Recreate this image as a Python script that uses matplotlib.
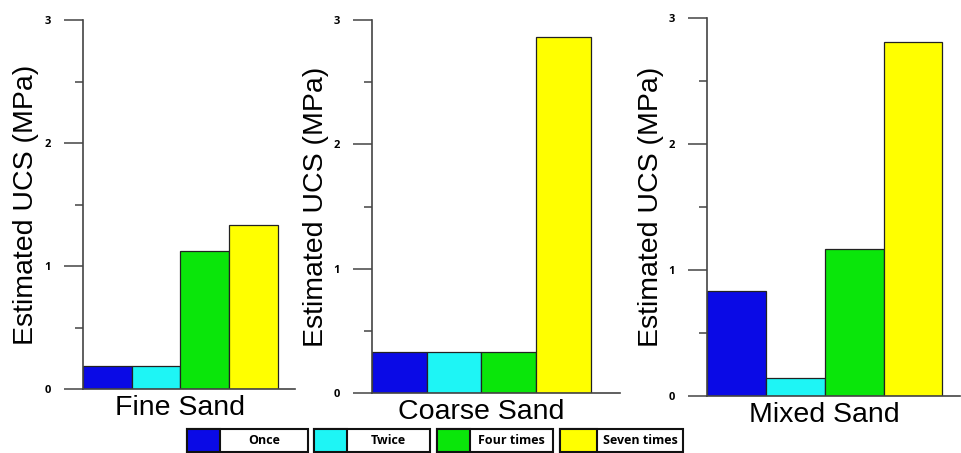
import matplotlib.pyplot as plt
from matplotlib.patches import Rectangle
from matplotlib.ticker import MultipleLocator

# data
sands = ['Fine Sand', 'Coarse Sand', 'Mixed Sand']
treatments = ['Once', 'Twice', 'Four times', 'Seven times']
colors = ['#0a0ae6', '#1ef5f5', '#0ae60a', '#ffff00']
ucs_fine = [0.19, 0.19, 1.12, 1.33]
ucs_coarse = [0.33, 0.33, 0.33, 2.86]
ucs_mixed = [0.835, 0.14, 1.17, 2.81]

W, H = 961, 453
plt.rcParams['font.family'] = ['Liberation Sans', 'DejaVu Sans']
fig = plt.figure(figsize=(W / 100, H / 100), dpi=100)

# panel rectangles in pixels: left, top, width, height, xmax, ylabel pad
panels = [
    (83, 20, 212, 369, 4.35, 4, ucs_fine),
    (372, 20, 248, 373, 4.53, 3.5, ucs_coarse),
    (707, 18, 253, 378, 4.30, 3, ucs_mixed),
]

for (left, top, w, h, xmax, pad, vals), name in zip(panels, sands):
    ax = fig.add_axes([left / W, 1 - (top + h) / H, w / W, h / H])
    ax.bar(range(len(vals)), vals, width=1, align='edge', color=colors,
           edgecolor='#222222', linewidth=0.9)
    ax.set_xlim(0, xmax)
    ax.set_ylim(0, 3)
    for s in ['top', 'right']:
        ax.spines[s].set_visible(False)
    for s in ['left', 'bottom']:
        ax.spines[s].set_color('#444444')
        ax.spines[s].set_linewidth(1.2)
    ax.set_xticks([])
    ax.yaxis.set_major_locator(MultipleLocator(1))
    ax.yaxis.set_minor_locator(MultipleLocator(0.5))
    ax.tick_params(axis='y', which='major', direction='out', length=14,
                   width=1.1, color='#444444', pad=9, labelsize=8)
    ax.tick_params(axis='y', which='minor', direction='out', length=5.5,
                   width=1.1, color='#444444')
    for lab in ax.get_yticklabels():
        lab.set_fontweight('bold')
        lab.set_family(['Open Sans', 'DejaVu Sans'])
    ax.set_ylabel('Estimated UCS (MPa)', fontsize=20.5, labelpad=pad)
    ax.text(len(vals) / 2, -0.015, name, transform=ax.get_xaxis_transform(),
            ha='center', va='top', fontsize=20.5)

# boxed legend along the bottom
lax = fig.add_axes([0, 0, 1, 1])
lax.set_xlim(0, W)
lax.set_ylim(H, 0)
lax.axis('off')
boxes = [(187, 220, 308), (314, 347, 430), (437, 470, 553), (560, 597, 683)]
for (x0, xm, x1), lab, c in zip(boxes, treatments, colors):
    lax.add_patch(Rectangle((x0, 429), x1 - x0, 23, facecolor='white',
                            edgecolor='#111111', linewidth=1.5))
    lax.add_patch(Rectangle((x0, 429), xm - x0, 23, facecolor=c,
                            edgecolor='#111111', linewidth=1.5))
    lax.text((xm + x1) / 2, 441, lab, ha='center', va='center', fontsize=9,
             fontweight='bold', family=['Open Sans', 'DejaVu Sans'])

fig.savefig('out.png', dpi=100)
